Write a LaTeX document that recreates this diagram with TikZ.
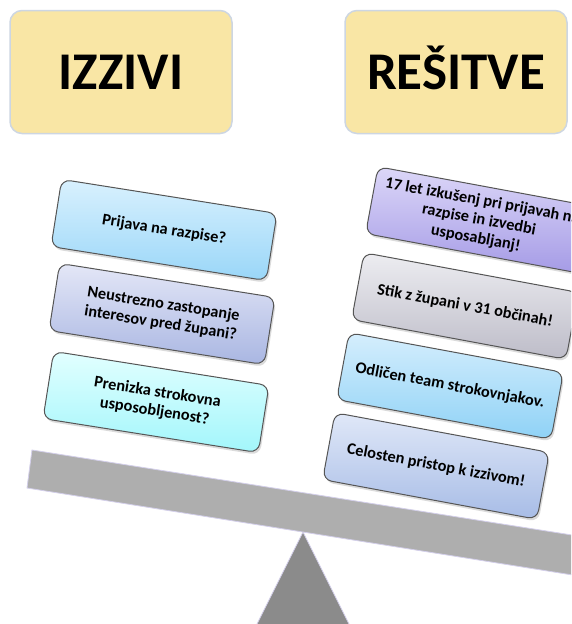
\documentclass[tikz,border=0pt]{standalone}
\usepackage{fontspec}
\setmainfont{Carlito}
\usetikzlibrary{shadows}
\definecolor{headfill}{HTML}{F9E6A5}
\definecolor{headborder}{HTML}{CDD6E2}
\definecolor{cardborder}{HTML}{555555}
\definecolor{ltop}{HTML}{D9F1FE}\definecolor{lbot}{HTML}{99D6F8}
\definecolor{mtop}{HTML}{E4E7F7}\definecolor{mbot}{HTML}{A9B6E2}
\definecolor{ctop}{HTML}{E2FFFF}\definecolor{cbot}{HTML}{A2F6FB}
\definecolor{ptop}{HTML}{DCD7F8}\definecolor{pbot}{HTML}{A59BE6}
\definecolor{gtop}{HTML}{EDEDF1}\definecolor{gbot}{HTML}{BDBCC8}
\definecolor{btop}{HTML}{D5EEFD}\definecolor{bbot}{HTML}{8FD2F6}
\definecolor{vtop}{HTML}{E0E8F8}\definecolor{vbot}{HTML}{A7BCE6}
\definecolor{beamfill}{HTML}{AEAEAE}
\definecolor{beamborder}{HTML}{D3CFEA}
\definecolor{fulcrum}{HTML}{8B8B8B}
\tikzset{
  head/.style={draw=headborder, line width=1.5pt, fill=headfill, rounded corners=12pt,
    minimum width=222pt, minimum height=123pt, text height=34pt, text depth=0pt,
    font=\fontsize{53}{60}\selectfont\bfseries},
  card/.style={draw=cardborder, line width=1pt, rounded corners=9pt,
    minimum width=218pt, minimum height=68pt, align=center, inner xsep=0pt,
    font=\fontsize{16.3}{19}\selectfont\bfseries,
    drop shadow={opacity=0.28, shadow xshift=1.5pt, shadow yshift=-2.5pt}},
  lcard/.style={card, rotate=-9},
  rcard/.style={card, rotate=-10.5},
}
\begin{document}
\begin{tikzpicture}[x=1pt,y=-1pt]
\useasboundingbox (0,0) rectangle (571,624);
\clip (0,0) rectangle (571,624);
\fill[white] (0,0) rectangle (571,624);
% headings
\node[head] (izzivi) at (121,72) {IZZIVI};
\node[head] (resitve) at (456,72) {REŠITVE};
% fulcrum and beam
\path[fill=fulcrum, draw=beamborder, line width=0.8pt] (303,532) -- (352,630) -- (254,630) -- cycle;
\path[fill=beamfill, draw=beamborder, line width=0.8pt] (32,450) -- (610,541) -- (604,580) -- (27,488) -- cycle;
% left cards
\node[lcard, top color=ltop, bottom color=lbot] (l1) at (164,230) {Prijava na razpise?};
\node[lcard, top color=mtop, bottom color=mbot] (l2) at (162,314) {Neustrezno zastopanje\\interesov pred župani?};
\node[lcard, top color=ctop, bottom color=cbot] (l3) at (156,402) {Prenizka strokovna\\usposobljenost?};
% right cards
\node[rcard, top color=ptop, bottom color=pbot] (r1) at (479,220) {17 let izkušenj pri prijavah na\\razpise in izvedbi\\usposabljanj!};
\node[rcard, top color=gtop, bottom color=gbot] (r2) at (465,306) {Stik z župani v 31 občinah!};
\node[rcard, top color=btop, bottom color=bbot] (r3) at (450,386) {Odličen team strokovnjakov.};
\node[rcard, top color=vtop, bottom color=vbot] (r4) at (436,466) {Celosten pristop k izzivom!};
\end{tikzpicture}
\end{document}
